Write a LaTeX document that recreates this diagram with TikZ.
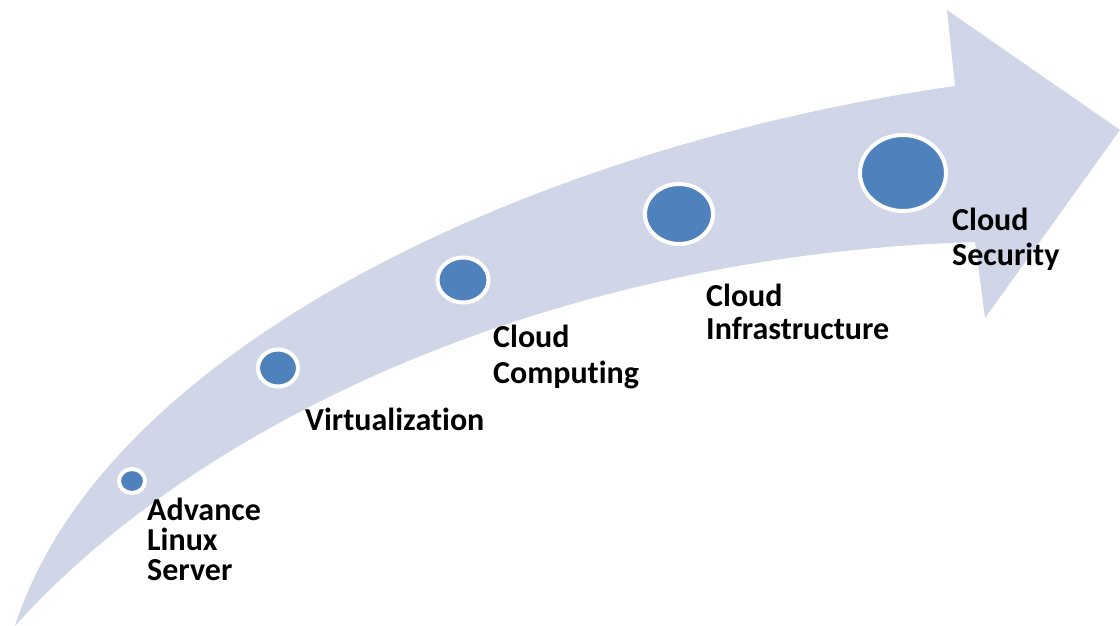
\documentclass[tikz,border=0pt]{standalone}
\usepackage{fontspec}
\setmainfont{Carlito}[Ligatures=CommonOff]
\usetikzlibrary{shapes.geometric}

\definecolor{bandfill}{HTML}{D0D6E8}
\definecolor{dotblue}{HTML}{4F81BD}

\begin{document}
\begin{tikzpicture}[x=1pt,y=-1pt,
  dot/.style={ellipse,draw=white,line width=4pt,fill=dotblue,inner sep=0pt},
  lbl/.style={anchor=base west,align=left,inner sep=0pt,
    font=\bfseries\fontsize{32}{#1}\selectfont},
  lbl/.default=34]
  \useasboundingbox (0,0) rectangle (1120,626);
  % the curved arrow
  \coordinate (tail) at (15,626);
  \fill[bandfill] (tail) .. controls (105,345) and (540,145) .. (955,86)
    -- (947,10) -- (1120,130) -- (985,318) -- (975,242)
    .. controls (555,255) and (200,420) .. (tail) -- cycle;
  % milestones
  \node[dot,minimum width=26pt,minimum height=24pt] (c1) at (132,481) {};
  \node[dot,minimum width=40pt,minimum height=37pt] (c2) at (278,368) {};
  \node[dot,minimum width=51pt,minimum height=45pt] (c3) at (463,280) {};
  \node[dot,minimum width=68pt,minimum height=60pt] (c4) at (679,214) {};
  \node[dot,minimum width=86pt,minimum height=76pt] (c5) at (903,173) {};
  % labels
  \node[lbl=30] (t1) at (147,580) {Advance\\Linux\\Server};
  \node[lbl] (t2) at (305,430) {Virtualization};
  \node[lbl=36] (t3) at (493,383) {Cloud\\Computing};
  \node[lbl=33] (t4) at (706,339) {Cloud\\Infrastructure};
  \node[lbl=35] (t5) at (952,265) {Cloud\\Security};
\end{tikzpicture}
\end{document}
